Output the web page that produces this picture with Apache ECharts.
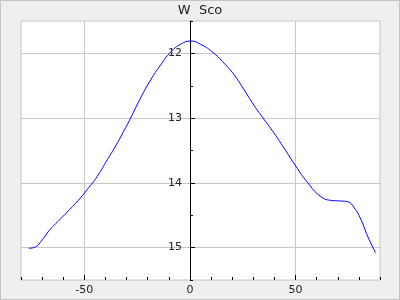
<!DOCTYPE html>
<html>
<head>
<meta charset="utf-8">
<script src="https://cdn.jsdelivr.net/npm/echarts@6/dist/echarts.min.js"></script>
<style>
html,body{margin:0;padding:0;}
#frame{width:400px;height:300px;box-sizing:border-box;border:1px solid #c4c4c4;background:#efefef;}
#chart{width:398px;height:298px;}
</style>
</head>
<body>
<div id="frame"><div id="chart"></div></div>
<script>
var titleText = 'W  Sco';
var phase = [-76.3, -74, -69.2, -66.8, -64.5, -58.1, -51.8, -48.6, -43.9, -39.1, -35.7, -32.8, -28.1, -23.4, -18.6, -13.9, -9.1, -4.4, 0.3, 5.1, 11.4, 16.1, 20.9, 25.6, 30.3, 35.1, 39.8, 44.5, 50.1, 55.6, 61.9, 66.7, 71.4, 74.6, 77.7, 80.9, 84.1, 87.9];
var mag = [15.01, 15.0, 14.85, 14.74, 14.66, 14.45, 14.23, 14.10, 13.90, 13.64, 13.46, 13.29, 13.0, 12.69, 12.41, 12.18, 11.98, 11.86, 11.81, 11.86, 12.0, 12.15, 12.33, 12.56, 12.80, 13.02, 13.23, 13.46, 13.74, 13.99, 14.21, 14.27, 14.28, 14.29, 14.38, 14.56, 14.82, 15.08];
var xMajorTicks = [-50, 0, 50];
var yMajorTicks = [12, 13, 14, 15];

var chart = echarts.init(document.getElementById('chart'), null, {renderer: 'canvas'});
var font = 'DejaVu Sans';
var data = phase.map(function (p, i) { return [p, mag[i]]; });
chart.setOption({
  animation: false,
  title: {text: titleText, left: 'center', top: 3, padding: 0, textStyle: {fontFamily: font, fontSize: 13, fontWeight: 'normal', color: '#222'}},
  grid: {left: 20, right: 19, top: 20, bottom: 19, show: true, backgroundColor: '#ffffff', borderColor: '#c4c4c4', borderWidth: 1, outerBoundsMode: 'none', containLabel: false},
  xAxis: [
    {type: 'value', min: -80, max: 90, interval: 10,
     axisLine: {show: false, onZero: false},
     axisTick: {show: true, inside: true, length: 3, lineStyle: {color: '#000'}},
     axisLabel: {show: false}, splitLine: {show: false}},
    {type: 'value', min: -80, max: 90, position: 'bottom',
     axisLine: {show: false, onZero: false},
     axisTick: {show: true, inside: true, length: 5, customValues: xMajorTicks, lineStyle: {color: '#000'}},
     axisLabel: {show: true, customValues: xMajorTicks, margin: 5, fontFamily: font, fontSize: 11, color: '#222'},
     splitLine: {show: true, lineStyle: {color: '#c8c8c8', width: 1}}}
  ],
  yAxis: [
    {type: 'value', min: 11.5, max: 15.5, interval: 0.5, inverse: true, position: 'left',
     axisLine: {show: true, onZero: true, onZeroAxisIndex: 0, lineStyle: {color: '#000', width: 1}},
     axisTick: {show: true, inside: true, length: 3, lineStyle: {color: '#000'}},
     axisLabel: {show: false}, splitLine: {show: false}},
    {type: 'value', min: 11.5, max: 15.5, inverse: true, position: 'left',
     axisLine: {show: false, onZero: false},
     axisTick: {show: true, inside: true, length: 5, customValues: yMajorTicks, lineStyle: {color: '#000'}},
     axisLabel: {show: true, customValues: yMajorTicks, margin: 8, fontFamily: font, fontSize: 11, color: '#222'},
     splitLine: {show: true, lineStyle: {color: '#c8c8c8', width: 1}}}
  ],
  series: [{
    type: 'line', xAxisIndex: 0, yAxisIndex: 0, data: data, smooth: 0.5,
    showSymbol: false, symbol: 'none', lineStyle: {color: '#0000ff', width: 1}
  }]
});
var zeroPx = chart.convertToPixel({xAxisIndex: 0}, 0);
var leftPx = chart.convertToPixel({xAxisIndex: 0}, -80);
chart.setOption({yAxis: [{}, {offset: -(zeroPx - leftPx)}]});
</script>
</body>
</html>
